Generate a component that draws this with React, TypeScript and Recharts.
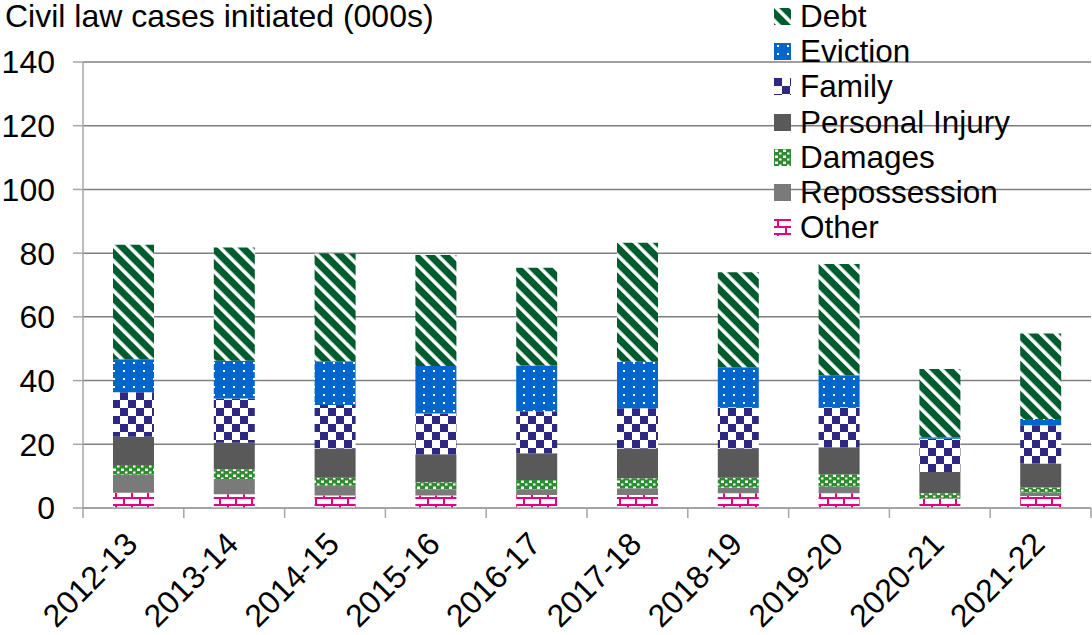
import { BarChart, Bar, XAxis, YAxis, CartesianGrid, Legend } from 'recharts';

const FONT = '"Liberation Sans", Arial, sans-serif';

// financial years on the x axis
const categories = ['2012-13', '2013-14', '2014-15', '2015-16', '2016-17', '2017-18', '2018-19', '2019-20', '2020-21', '2021-22'];

// values (thousands of cases)
const other = [4.8, 4.3, 3.9, 3.9, 4.1, 4.1, 4.6, 4.6, 2.8, 3.8];
const repossession = [5.6, 4.8, 3.1, 2.0, 1.8, 2.1, 1.8, 2.1, 0.2, 1.1];
const damages = [3.1, 3.1, 2.5, 2.2, 2.9, 3.1, 3.1, 3.9, 1.6, 1.5];
const personalInjury = [8.9, 8.3, 9.2, 8.8, 8.4, 9.4, 9.2, 8.5, 6.7, 7.6];
const family = [13.9, 13.9, 13.6, 12.8, 13.2, 12.6, 12.9, 12.5, 10.4, 12.0];
const eviction = [10.4, 11.8, 13.8, 14.9, 14.3, 14.6, 12.6, 10.1, 0.5, 1.9];
const debt = [35.9, 35.6, 33.8, 34.8, 30.7, 37.4, 29.8, 34.9, 21.4, 26.9];

const yTicks = [0, 20, 40, 60, 80, 100, 120, 140];

// stacking order, bottom first
const SERIES = [
  { key: 'other', name: 'Other', pattern: 'pOther' },
  { key: 'repossession', name: 'Repossession', pattern: 'pRepo' },
  { key: 'damages', name: 'Damages', pattern: 'pDamages' },
  { key: 'personalInjury', name: 'Personal Injury', pattern: 'pInjury' },
  { key: 'family', name: 'Family', pattern: 'pFamily' },
  { key: 'eviction', name: 'Eviction', pattern: 'pEviction' },
  { key: 'debt', name: 'Debt', pattern: 'pDebt' },
];

const chartData = categories.map((year, i) => ({
  year,
  other: other[i],
  repossession: repossession[i],
  damages: damages[i],
  personalInjury: personalInjury[i],
  family: family[i],
  eviction: eviction[i],
  debt: debt[i],
}));

const AXIS_GREY = '#a6a6a6';

// x tick: boundary tick marks plus a rotated label
const XTick = (props: any) => {
  const { x, y, payload, index, visibleTicksCount } = props;
  const half = payload && typeof payload.offset === 'number' && payload.offset > 0 ? payload.offset : 50.4;
  const lx = x + 6;
  const ly = y + 38;
  return (
    <g>
      <line x1={x - half} x2={x - half} y1={y} y2={y + 10} stroke={AXIS_GREY} strokeWidth={1.5} />
      {index === visibleTicksCount - 1 && (
        <line x1={x + half} x2={x + half} y1={y} y2={y + 10} stroke={AXIS_GREY} strokeWidth={1.5} />
      )}
      <text x={lx} y={ly} textAnchor="end" fill="#000" fontSize={32} fontFamily={FONT} transform={`rotate(-45, ${lx}, ${ly})`}>
        {payload.value}
      </text>
    </g>
  );
};

const LegendContent = () => (
  <div style={{ fontFamily: FONT, fontSize: 31.5, color: '#000' }}>
    {[...SERIES].reverse().map(s => (
      <div key={s.key} style={{ display: 'flex', alignItems: 'center', height: 35.2, lineHeight: '35.2px', whiteSpace: 'nowrap' }}>
        <svg width={17} height={17} style={{ marginRight: 9, flex: 'none' }}>
          <rect x={0} y={0} width={17} height={17} fill={`url(#${s.pattern})`} />
        </svg>
        <span>{s.name}</span>
      </div>
    ))}
  </div>
);

export default function App() {
  return (
    <div style={{ position: 'absolute', left: 0, top: 0, width: 1092, height: 635, background: '#fff' }}>
      <div style={{ position: 'absolute', left: 5, top: -2, fontFamily: FONT, fontSize: 32, color: '#000', whiteSpace: 'nowrap', lineHeight: '36px' }}>
        Civil law cases initiated (000s)
      </div>
      <BarChart width={1092} height={635} data={chartData} margin={{ top: 62, right: 1, left: 0, bottom: 0 }} barSize={41}>
        <defs>
          <pattern id="pDebt" patternUnits="userSpaceOnUse" width={10.6} height={10.6} patternTransform="rotate(-45)">
            <rect width={10.6} height={10.6} fill="#005c2e" />
            <rect x={0} y={0} width={3.6} height={10.6} fill="#fff" />
          </pattern>
          <pattern id="pEviction" patternUnits="userSpaceOnUse" width={10} height={8}>
            <rect width={10} height={8} fill="#0066cc" />
            <rect x={3} y={2} width={2} height={2} fill="#fff" />
          </pattern>
          <pattern id="pFamily" patternUnits="userSpaceOnUse" width={16} height={16}>
            <rect width={16} height={16} fill="#fff" />
            <rect x={0} y={0} width={8} height={8} fill="#2f2784" />
            <rect x={8} y={8} width={8} height={8} fill="#2f2784" />
          </pattern>
          <pattern id="pInjury" patternUnits="userSpaceOnUse" width={8} height={8}>
            <rect width={8} height={8} fill="#595959" />
          </pattern>
          <pattern id="pDamages" patternUnits="userSpaceOnUse" width={8} height={6}>
            <rect width={8} height={6} fill="#2e8b2e" />
            <rect x={1} y={0.5} width={3} height={2.5} fill="#fff" />
            <rect x={5} y={3.5} width={2.5} height={2} fill="#fff" />
          </pattern>
          <pattern id="pRepo" patternUnits="userSpaceOnUse" width={8} height={8}>
            <rect width={8} height={8} fill="#7a7a7a" />
          </pattern>
          <pattern id="pOther" patternUnits="userSpaceOnUse" width={16} height={14}>
            <rect width={16} height={14} fill="#fff" />
            <rect x={0} y={0} width={16} height={2} fill="#e6007e" />
            <rect x={0} y={7} width={16} height={2} fill="#e6007e" />
            <rect x={3} y={0} width={2} height={7} fill="#e6007e" />
            <rect x={11} y={7} width={2} height={7} fill="#e6007e" />
          </pattern>
        </defs>
        <CartesianGrid vertical={false} stroke="#7f7f7f" strokeWidth={1.5} />
        <XAxis
          dataKey="year"
          interval={0}
          height={127}
          tickLine={false}
          tickSize={0}
          tickMargin={0}
          axisLine={{ stroke: AXIS_GREY, strokeWidth: 1.5 }}
          tick={<XTick />}
        />
        <YAxis
          width={83}
          domain={[0, 140]}
          ticks={yTicks}
          interval={0}
          tickSize={10}
          tickMargin={18}
          axisLine={{ stroke: AXIS_GREY, strokeWidth: 1.5 }}
          tickLine={{ stroke: AXIS_GREY, strokeWidth: 1.5 }}
          tick={{ fill: '#000', fontSize: 32, fontFamily: FONT }}
        />
        <Legend
          layout="vertical"
          align="center"
          verticalAlign="middle"
          wrapperStyle={{ left: 774, top: -1, width: 310 }}
          content={<LegendContent />}
        />
        {SERIES.map(s => (
          <Bar key={s.key} dataKey={s.key} name={s.name} stackId="cases" fill={`url(#${s.pattern})`} isAnimationActive={false} />
        ))}
      </BarChart>
    </div>
  );
}
